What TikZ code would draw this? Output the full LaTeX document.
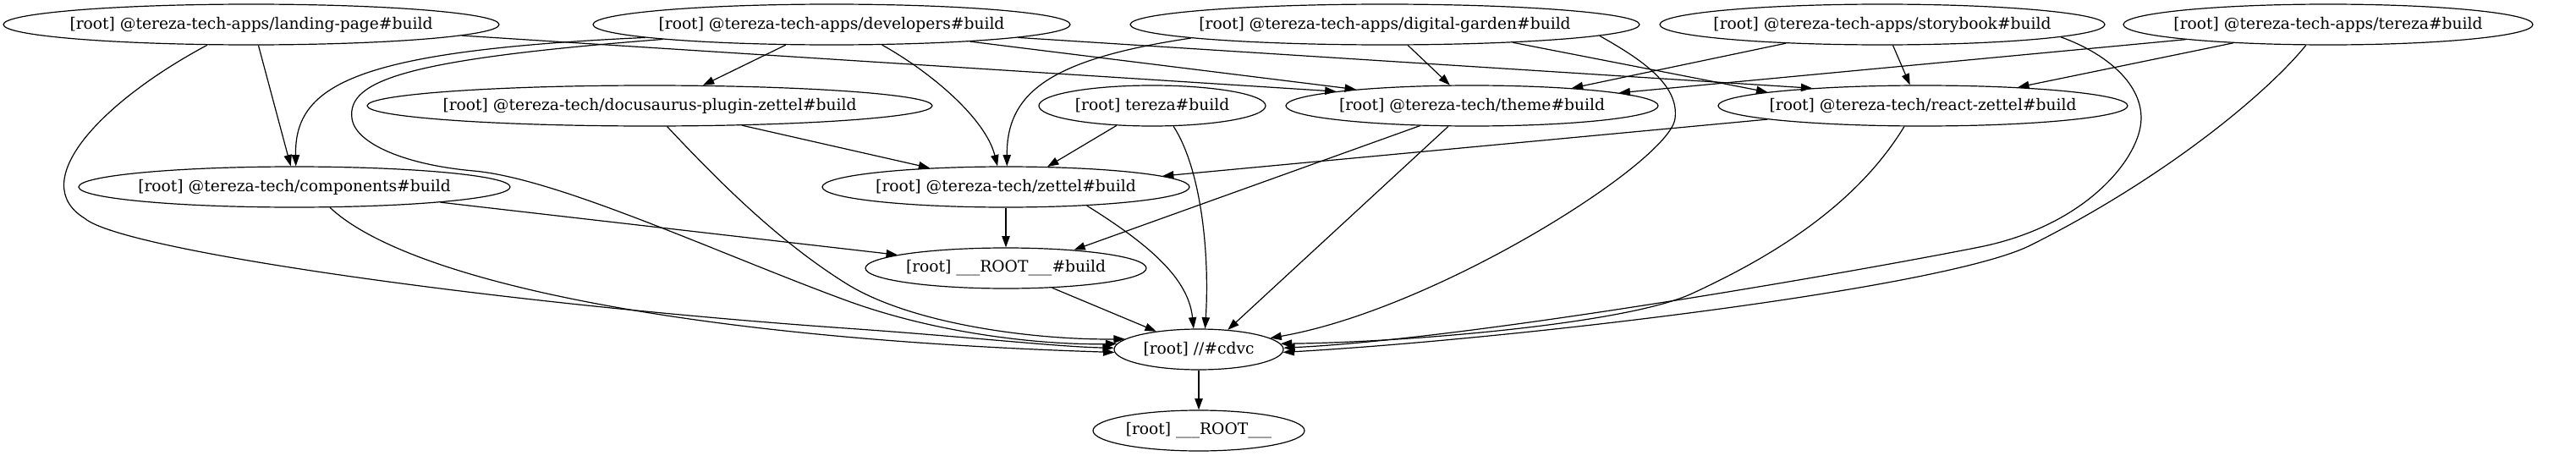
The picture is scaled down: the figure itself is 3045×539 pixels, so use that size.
\documentclass[tikz,border=0pt]{standalone}
\usepackage{fontspec}
\setmainfont{DejaVu Serif}
\usetikzlibrary{shapes.geometric,arrows.meta}
\begin{document}
\begin{tikzpicture}[x=0.75pt,y=-0.75pt,
  gv/.style={ellipse,draw,line width=0.9pt,inner sep=0pt,minimum height=36pt,font=\fontsize{14}{17}\selectfont},
  edge/.style={-{Triangle[length=10pt,width=7pt]},line width=0.9pt}]
\useasboundingbox (0,0) rectangle (3045,539);
% nodes
\node[gv,minimum width=439.5pt] (lp) at (297,29) {\makebox[0pt]{[root] @tereza-tech-apps/landing-page\#build}};
\node[gv,minimum width=423pt] (dev) at (983,29) {\makebox[0pt]{[root] @tereza-tech-apps/developers\#build}};
\node[gv,minimum width=451.5pt] (dg) at (1637,29) {\makebox[0pt]{[root] @tereza-tech-apps/digital-garden\#build}};
\node[gv,minimum width=394.5pt] (sb) at (2225,29) {\makebox[0pt]{[root] @tereza-tech-apps/storybook\#build}};
\node[gv,minimum width=363pt] (ta) at (2752,29) {\makebox[0pt]{[root] @tereza-tech-apps/tereza\#build}};
\node[gv,minimum width=501pt] (doc) at (768,125) {\makebox[0pt]{[root] @tereza-tech/docusaurus-plugin-zettel\#build}};
\node[gv,minimum width=201pt] (tb) at (1362,125) {\makebox[0pt]{[root] tereza\#build}};
\node[gv,minimum width=330pt] (th) at (1740,125) {\makebox[0pt]{[root] @tereza-tech/theme\#build}};
\node[gv,minimum width=363pt] (rz) at (2273,125) {\makebox[0pt]{[root] @tereza-tech/react-zettel\#build}};
\node[gv,minimum width=382.5pt] (comp) at (348,221) {\makebox[0pt]{[root] @tereza-tech/components\#build}};
\node[gv,minimum width=325.5pt] (zt) at (1189,221) {\makebox[0pt]{[root] @tereza-tech/zettel\#build}};
\node[gv,minimum width=249pt] (rb) at (1189,317) {\makebox[0pt]{[root] \_\_\_ROOT\_\_\_\#build}};
\node[gv,minimum width=150pt] (cd) at (1417,413) {\makebox[0pt]{[root] //\#cdvc}};
\node[gv,minimum width=187.5pt] (rt) at (1417,509) {\makebox[0pt]{[root] \_\_\_ROOT\_\_\_}};
% landing-page
\draw[edge] (lp.-71.6) -- (comp.100);
\draw[edge] (lp.-3.3) -- (th.174.4);
\draw[edge] (lp.-155.2) .. controls (120,120) and (30,215) .. (100,258)
  .. controls (145,297) and (600,360) .. (1000,388)
  .. controls (1150,398.5) and (1250,410) .. (cd.179);
% developers
\draw[edge] (dev.184) .. controls (420,60) and (348,100) .. (comp.86);
\draw[edge] (dev.185) .. controls (480,70) and (410,95) .. (416,140)
  .. controls (420,170) and (480,195) .. (560,202)
  .. controls (660,211) and (850,300) .. (1000,355)
  .. controls (1120,399) and (1250,408) .. (cd.176);
\draw[edge] (dev.204.4) -- (doc.21.2);
\draw[edge] (dev.-22.1) .. controls (1100,85) and (1165,140) .. (zt.112.6);
\draw[edge] (dev.-7.2) -- (th.172.8);
\draw[edge] (dev.-4.1) -- (rz.171.7);
% digital-garden
\draw[edge] (dg.184.2) .. controls (1240,70) and (1190,110) .. (zt.87.6);
\draw[edge] (dg.-42.6) -- (th.137.5);
\draw[edge] (dg.-8.8) -- (rz.175.7);
\draw[edge] (dg.-3.9) .. controls (1940,70) and (1985,100) .. (1980,140)
  .. controls (1975,190) and (1700,365) .. (cd.9);
% storybook
\draw[edge] (sb.191.9) -- (th.10.1);
\draw[edge] (sb.-63.4) -- (rz.122);
\draw[edge] (sb.-4.8) .. controls (2495,65) and (2538,105) .. (2530,150)
  .. controls (2522,195) and (2460,268) .. (2340,292)
  .. controls (2220,316) and (1750,400) .. (cd.1);
% tereza apps
\draw[edge] (ta.186.1) -- (th.5);
\draw[edge] (ta.191.6) -- (rz.11.5);
\draw[edge] (ta.223.7) .. controls (2680,110) and (2560,210) .. (2400,290)
  .. controls (2300,340) and (1800,400) .. (cd.-2);
% docusaurus
\draw[edge] (doc.-12.7) -- (zt.166.9);
\draw[edge] (doc.-50.2) .. controls (850,215) and (920,285) .. (1000,335)
  .. controls (1080,385) and (1230,402) .. (cd.172);
% tereza#build
\draw[edge] (tb.209.8) -- (zt.26.5);
\draw[edge] (tb.-44.5) .. controls (1420,200) and (1430,300) .. (cd.73.7);
% theme
\draw[edge] (th.201.7) -- (rb.15.9);
\draw[edge] (th.221.4) -- (cd.34.5);
% react-zettel
\draw[edge] (rz.185.3) -- (zt.4.7);
\draw[edge] (rz.228.7) .. controls (2190,250) and (2080,310) .. (2000,347)
  .. controls (1920,384) and (1650,405) .. (cd.4);
% components
\draw[edge] (comp.-6.5) -- (rb.173.8);
\draw[edge] (comp.-30) .. controls (480,330) and (800,400) .. (cd.182);
% zettel
\draw[edge] (zt.south) -- (rb.north);
\draw[edge] (zt.-13.3) .. controls (1360,290) and (1405,330) .. (cd.104);
% root build
\draw[edge] (rb.-23.7) -- (cd.157.4);
\draw[edge] (cd.south) -- (rt.north);
\end{tikzpicture}
\end{document}
